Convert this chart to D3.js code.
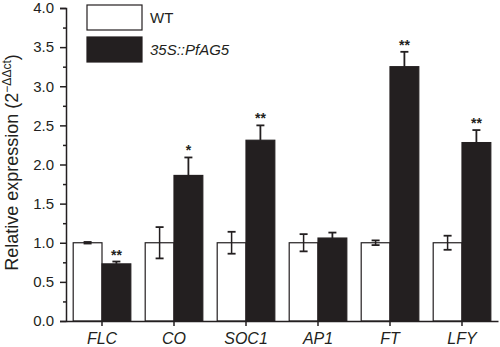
<!DOCTYPE html>
<html>
<head>
<meta charset="utf-8">
<script src="https://cdn.jsdelivr.net/npm/d3@7"></script>
<style>
  body { margin: 0; background: #fff; }
  text { font-family: "Liberation Sans", Arial, sans-serif; fill: #231f20; }
</style>
</head>
<body>
<div id="chart"></div>
<script>
// data
var genes = ["FLC", "CO", "SOC1", "AP1", "FT", "LFY"];
var wtValues = [1.0, 1.0, 1.0, 1.0, 1.0, 1.0];
var wtErrors = [0.01, 0.2, 0.14, 0.11, 0.03, 0.09];
var oeValues = [0.73, 1.86, 2.31, 1.06, 3.25, 2.28];
var oeErrors = [0.03, 0.23, 0.19, 0.07, 0.19, 0.16];
var oeStars = ["**", "*", "**", "", "**", "**"];
var seriesNames = ["WT", "35S::PfAG5"];
var yTicks = [0, 0.5, 1, 1.5, 2, 2.5, 3, 3.5, 4];

var W = 500, H = 347;
var margin = {top: 8, right: 2, bottom: 26, left: 66},
    width = W - margin.left - margin.right,
    height = H - margin.top - margin.bottom;

var ink = "#231f20";

var svg = d3.select("#chart")
  .append("svg")
    .attr("width", W)
    .attr("height", H)
  .append("g")
    .attr("transform", "translate(" + margin.left + "," + margin.top + ")");

var x = d3.scaleBand()
    .domain(genes)
    .range([0, width])
    .paddingInner(0.2)
    .paddingOuter(0.1);

var xSub = d3.scaleBand()
    .domain(seriesNames)
    .range([0, x.bandwidth()]);

var y = d3.scaleLinear()
    .domain([0, 4])
    .range([height, 0]);

// bars
var groups = svg.selectAll(".gene")
  .data(genes)
  .enter().append("g")
    .attr("transform", function(d) { return "translate(" + x(d) + ",0)"; });

groups.append("rect")
    .attr("x", xSub("WT"))
    .attr("y", function(d, i) { return y(wtValues[i]); })
    .attr("width", xSub.bandwidth())
    .attr("height", function(d, i) { return height - y(wtValues[i]); })
    .attr("fill", "#fff")
    .attr("stroke", ink)
    .attr("stroke-width", 1.2);

groups.append("rect")
    .attr("x", xSub("35S::PfAG5"))
    .attr("y", function(d, i) { return y(oeValues[i]); })
    .attr("width", xSub.bandwidth())
    .attr("height", function(d, i) { return height - y(oeValues[i]); })
    .attr("fill", ink)
    .attr("stroke", ink)
    .attr("stroke-width", 1.2);

// error bars: WT both ways, transgenic upward only
var cap = 4;
groups.each(function(d, i) {
  var g = d3.select(this);
  var cx = xSub("WT") + xSub.bandwidth() / 2;
  var lo = y(wtValues[i] - wtErrors[i]), hi = y(wtValues[i] + wtErrors[i]);
  g.append("line").attr("x1", cx).attr("x2", cx).attr("y1", lo).attr("y2", hi)
    .attr("stroke", ink).attr("stroke-width", 1.5);
  [lo, hi].forEach(function(v) {
    g.append("line").attr("x1", cx - cap).attr("x2", cx + cap).attr("y1", v).attr("y2", v)
      .attr("stroke", ink).attr("stroke-width", 1.8);
  });

  var ox = xSub("35S::PfAG5") + xSub.bandwidth() / 2;
  var top = y(oeValues[i] + oeErrors[i]);
  g.append("line").attr("x1", ox).attr("x2", ox).attr("y1", y(oeValues[i])).attr("y2", top)
    .attr("stroke", ink).attr("stroke-width", 1.8);
  g.append("line").attr("x1", ox - cap).attr("x2", ox + cap).attr("y1", top).attr("y2", top)
    .attr("stroke", ink).attr("stroke-width", 1.8);
  g.append("text")
    .attr("x", ox)
    .attr("y", top - 2)
    .attr("text-anchor", "middle")
    .style("font-size", "14px")
    .style("font-weight", "bold")
    .text(oeStars[i]);
});

// axes
var yAxis = svg.append("g")
    .call(d3.axisLeft(y).tickValues(yTicks).tickFormat(d3.format(".1f")).tickSize(6).tickPadding(6));
yAxis.selectAll("text").style("font-size", "15px");

var yMinor = svg.append("g")
    .call(d3.axisLeft(y).tickValues(d3.range(0.25, 4, 0.5)).tickFormat("").tickSize(3));
yMinor.select(".domain").remove();

var xAxis = svg.append("g")
    .attr("transform", "translate(0," + height + ")")
    .call(d3.axisBottom(x).tickSize(5).tickPadding(7).tickSizeOuter(0));
xAxis.selectAll("text").style("font-size", "16px").style("font-style", "italic");

svg.selectAll(".domain, .tick line").attr("stroke", ink).attr("stroke-width", 1.5);
svg.selectAll(".tick text").attr("fill", ink);

// y label
var yl = svg.append("text")
    .attr("transform", "translate(" + (-48) + "," + (height / 2 - 2) + ") rotate(-90)")
    .attr("text-anchor", "middle")
    .style("font-size", "18px");
yl.append("tspan").text("Relative expression (2");
yl.append("tspan").attr("dy", -7).style("font-size", "12px").text("\u2212\u0394\u0394ct");
yl.append("tspan").attr("dy", 7).text(")");

// legend
var legend = svg.selectAll(".legend")
  .data(seriesNames)
  .enter().append("g")
    .attr("transform", function(d, i) { return "translate(21," + (-3 + i * 32) + ")"; });

legend.append("rect")
    .attr("width", 55)
    .attr("height", 25)
    .attr("fill", function(d, i) { return i === 0 ? "#fff" : ink; })
    .attr("stroke", ink)
    .attr("stroke-width", 1.2);

legend.append("text")
    .attr("x", 63)
    .attr("y", 18)
    .style("font-size", "15px")
    .style("font-style", function(d, i) { return i === 0 ? "normal" : "italic"; })
    .text(function(d) { return d; });
</script>
</body>
</html>
